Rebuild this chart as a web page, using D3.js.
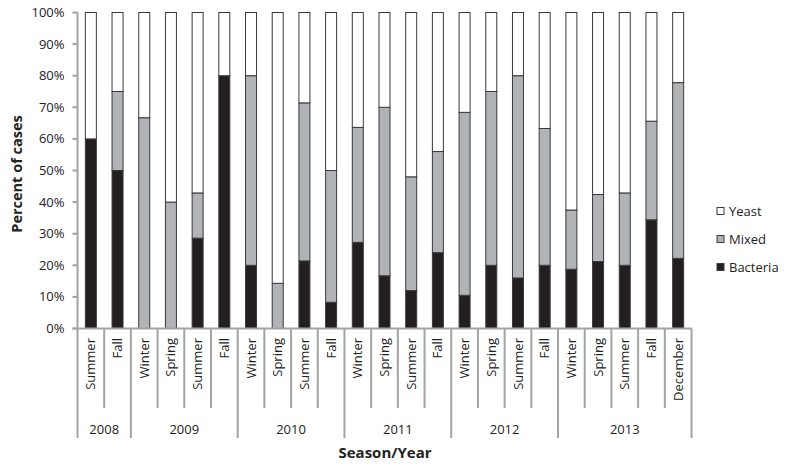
<!DOCTYPE html>
<html>
<head>
<meta charset="utf-8">
<script src="https://cdn.jsdelivr.net/npm/d3@7"></script>
<style>
  body { margin: 0; background: #fff; }
  svg { display: block; font-family: "Open Sans", sans-serif; }
</style>
</head>
<body>
<div id="chart"></div>
<script>
const seasons = ['Summer', 'Fall', 'Winter', 'Spring', 'Summer', 'Fall', 'Winter', 'Spring', 'Summer', 'Fall',
  'Winter', 'Spring', 'Summer', 'Fall', 'Winter', 'Spring', 'Summer', 'Fall', 'Winter', 'Spring', 'Summer', 'Fall', 'December'];
const years = ['2008', '2009', '2010', '2011', '2012', '2013'];
const yearCounts = [2, 4, 4, 4, 4, 5];
const bacteria = [60, 50, 0, 0, 28.6, 80, 20, 0, 21.4, 8.3, 27.3, 16.7, 12, 24, 10.5, 20, 16, 20, 18.75, 21.2, 20, 34.4, 22.2];
const mixed = [0, 25, 66.7, 40, 14.3, 0, 60, 14.3, 50, 41.7, 36.4, 53.3, 36, 32, 57.9, 55, 64, 43.3, 18.75, 21.2, 22.9, 31.2, 55.6];
const yeast = [40, 25, 33.3, 60, 57.1, 20, 20, 85.7, 28.6, 50, 36.4, 30, 52, 44, 31.6, 25, 20, 36.7, 62.5, 57.6, 57.1, 34.4, 22.2];
const seriesNames = ['Bacteria', 'Mixed', 'Yeast'];
const yTicks = [0, 10, 20, 30, 40, 50, 60, 70, 80, 90, 100];

const colors = { Bacteria: '#231f20', Mixed: '#b1b3b6', Yeast: '#ffffff' };
const axisColor = '#a3a3a3';

const width = 786, height = 468;
const plotLeft = 77.5, plotRight = 691.5, plotTop = 12.5, plotBottom = 328.5;

const svg = d3.select('#chart').append('svg')
  .attr('width', width)
  .attr('height', height);

const idx = d3.range(seasons.length);
const x = d3.scaleBand().domain(idx).range([plotLeft, plotRight]).paddingInner(0).paddingOuter(0);
const y = d3.scaleLinear().domain([0, 100]).range([plotBottom, plotTop]);

const rows = idx.map(i => ({ i, Bacteria: bacteria[i], Mixed: mixed[i], Yeast: yeast[i] }));
const stacked = d3.stack().keys(seriesNames)
  .offset(d3.stackOffsetExpand)(rows);

const barW = 11;
svg.append('g')
  .selectAll('g')
  .data(stacked)
  .join('g')
  .attr('fill', d => colors[d.key])
  .selectAll('rect')
  .data(d => d.filter(p => p[1] - p[0] > 0))
  .join('rect')
  .attr('x', p => x(p.data.i) + x.bandwidth() / 2 - barW / 2)
  .attr('width', barW)
  .attr('y', p => y(p[1] * 100))
  .attr('height', p => y(p[0] * 100) - y(p[1] * 100))
  .attr('stroke', '#3a3a3a')
  .attr('stroke-width', 1);

// y axis
const yAxis = svg.append('g');
yAxis.append('line')
  .attr('x1', plotLeft).attr('x2', plotLeft)
  .attr('y1', plotTop).attr('y2', plotBottom)
  .attr('stroke', axisColor).attr('stroke-width', 2);
yAxis.selectAll('line.tick')
  .data(yTicks)
  .join('line')
  .attr('class', 'tick')
  .attr('x1', plotLeft - 5).attr('x2', plotLeft)
  .attr('y1', d => y(d)).attr('y2', d => y(d))
  .attr('stroke', axisColor).attr('stroke-width', 2);
yAxis.selectAll('text')
  .data(yTicks)
  .join('text')
  .attr('x', plotLeft - 13)
  .attr('y', d => y(d))
  .attr('dy', '0.35em')
  .attr('text-anchor', 'end')
  .attr('font-size', 13)
  .attr('fill', '#222')
  .text(d => d + '%');

// x axis
const xAxis = svg.append('g');
xAxis.append('line')
  .attr('x1', plotLeft - 5).attr('x2', plotRight)
  .attr('y1', plotBottom).attr('y2', plotBottom)
  .attr('stroke', axisColor).attr('stroke-width', 2);

// boundaries between categories
const yearStarts = d3.cumsum([0, ...yearCounts]);
const edge = k => k === seasons.length ? plotRight : x(k);
const boundaries = d3.range(seasons.length + 1).map(k => ({
  k, isYear: yearStarts.includes(k)
}));
xAxis.selectAll('line.sep')
  .data(boundaries)
  .join('line')
  .attr('class', 'sep')
  .attr('x1', d => edge(d.k))
  .attr('x2', d => edge(d.k))
  .attr('y1', plotBottom)
  .attr('y2', d => d.isYear ? 438 : 408)
  .attr('stroke', axisColor).attr('stroke-width', 2);

xAxis.selectAll('text.season')
  .data(idx)
  .join('text')
  .attr('class', 'season')
  .attr('transform', i => `translate(${x(i) + x.bandwidth() / 2},338) rotate(-90)`)
  .attr('dy', '0.35em')
  .attr('text-anchor', 'end')
  .attr('font-size', 13)
  .attr('fill', '#222')
  .text(i => seasons[i]);

xAxis.selectAll('text.year')
  .data(years)
  .join('text')
  .attr('class', 'year')
  .attr('x', (d, j) => (edge(yearStarts[j]) + edge(yearStarts[j + 1])) / 2)
  .attr('y', 429)
  .attr('dy', '0.35em')
  .attr('text-anchor', 'middle')
  .attr('font-size', 13)
  .attr('fill', '#222')
  .text(d => d);

// axis titles
svg.append('text')
  .attr('x', 385).attr('y', 453)
  .attr('dy', '0.35em')
  .attr('text-anchor', 'middle')
  .attr('font-size', 15)
  .attr('font-weight', 'bold')
  .attr('fill', '#222')
  .text('Season/Year');

svg.append('text')
  .attr('transform', 'translate(17,174) rotate(-90)')
  .attr('dy', '0.35em')
  .attr('text-anchor', 'middle')
  .attr('font-size', 14.5)
  .attr('font-weight', 'bold')
  .attr('fill', '#222')
  .text('Percent of cases');

// legend
const legendItems = ['Yeast', 'Mixed', 'Bacteria'];
const legend = svg.append('g')
  .selectAll('g')
  .data(legendItems)
  .join('g')
  .attr('transform', (d, j) => `translate(717,${211 + j * 28})`);
legend.append('rect')
  .attr('x', 0).attr('y', -3.5)
  .attr('width', 7).attr('height', 7)
  .attr('fill', d => colors[d])
  .attr('stroke', '#3a3a3a').attr('stroke-width', 1);
legend.append('text')
  .attr('x', 12).attr('y', 0)
  .attr('dy', '0.35em')
  .attr('font-size', 13)
  .attr('fill', '#222')
  .text(d => d);
</script>
</body>
</html>
